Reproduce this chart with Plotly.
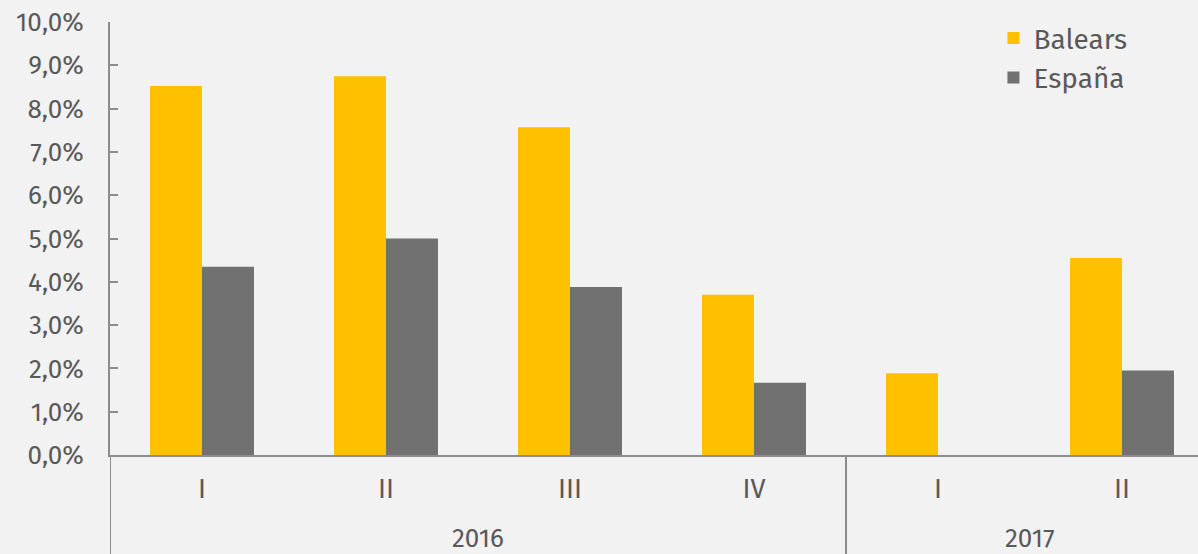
import plotly.graph_objects as go

quarters = ["I", "II", "III", "IV", "I", "II"]
years = ["2016", "2016", "2016", "2016", "2017", "2017"]
balears = [8.52, 8.75, 7.57, 3.70, 1.89, 4.55]
espana = [4.35, 5.00, 3.88, 1.67, None, 1.95]
y_ticks = [0, 1, 2, 3, 4, 5, 6, 7, 8, 9, 10]
y_labels = ["0,0%", "1,0%", "2,0%", "3,0%", "4,0%", "5,0%", "6,0%", "7,0%", "8,0%", "9,0%", "10,0%"]

FONT = "Fira Sans, Open Sans, sans-serif"
TXT = "#595959"
AX = "#8c8c8c"
idx = list(range(len(quarters)))

fig = go.Figure()
fig.add_trace(go.Bar(x=idx, y=balears, name="Balears", marker_color="#FFC000",
                     marker_line_width=0))
fig.add_trace(go.Bar(x=idx, y=espana, name="España", marker_color="#717171",
                     marker_line_width=0))

groups = {}
for i, yr in enumerate(years):
    groups.setdefault(yr, []).append(i)
shapes = []
annotations = []
for yr, ids in groups.items():
    annotations.append(dict(x=(ids[0] + ids[-1]) / 2, y=-0.193, xref="x", yref="paper",
                            yanchor="middle", text=yr, showarrow=False,
                            font=dict(size=26, color=TXT, family=FONT)))
    shapes.append(dict(type="line", x0=ids[0] - 0.5, x1=ids[0] - 0.5, y0=0, y1=-0.25,
                       xref="x", yref="paper", line=dict(color=AX, width=2)))

fig.update_layout(
    width=1198, height=554,
    margin=dict(l=110, r=0, t=22, b=99),
    paper_bgcolor="#F2F2F2", plot_bgcolor="#F2F2F2",
    barmode="group", bargap=0.435, bargroupgap=0,
    font=dict(family=FONT, color=TXT, size=26),
    showlegend=True,
    legend=dict(x=0.812, y=1.02, xanchor="left", yanchor="top", bgcolor="rgba(0,0,0,0)",
                font=dict(size=28, color=TXT, family=FONT), tracegroupgap=0),
    shapes=shapes, annotations=annotations,
    xaxis=dict(range=[-0.5, -0.5 + 1088 / 184], tickvals=idx, ticktext=quarters,
               showgrid=False, zeroline=False, showline=True, linecolor=AX, linewidth=2,
               ticks="", tickfont=dict(size=27, color=TXT), ticklabelstandoff=9),
    yaxis=dict(range=[0, 10], tickvals=y_ticks, ticktext=y_labels, showgrid=False,
               zeroline=False, showline=True, linecolor=AX, linewidth=2,
               ticks="inside", ticklen=8, tickwidth=2, tickcolor=AX,
               tickfont=dict(size=26, color=TXT), ticklabelstandoff=19),
)
fig.write_html("out.html", post_script="document.body.style.margin='0';",
               config={"displayModeBar": False})
